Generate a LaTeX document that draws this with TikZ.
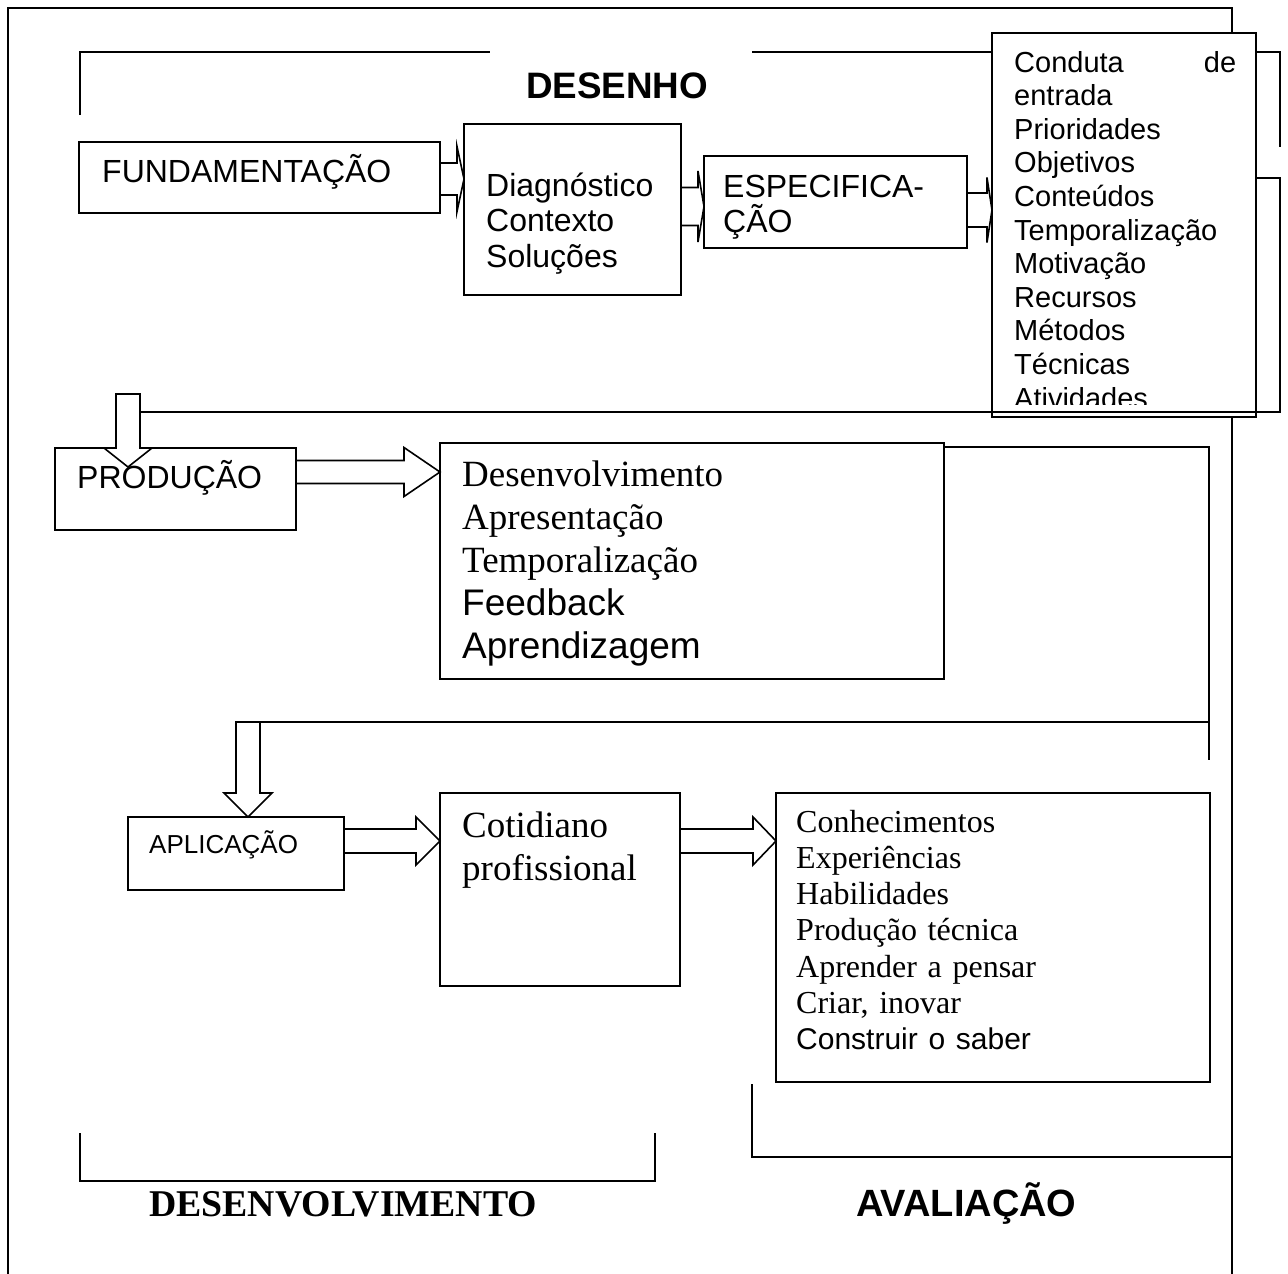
\documentclass[tikz,border=0pt]{standalone}
\usepackage{fontspec}
\setmainfont{Liberation Serif}
\setsansfont{Liberation Sans}
\usetikzlibrary{calc}

% block arrow: source, target, shift, shaft half, head half, head length
\newcommand{\hblock}[6]{%
	\draw[blockarrow] ($(#1.east)+(0,#3-#4)$)
	-- ($(#2.west|-#1.east)+(-#6,#3-#4)$) -- ++(0,#4-#5)
	-- ($(#2.west|-#1.east)+(0,#3)$)
	-- ($(#2.west|-#1.east)+(-#6,#3+#5)$) -- ++(0,#4-#5)
	-- ($(#1.east)+(0,#3+#4)$) -- cycle;}
% down arrow: top, shaft length, head length
\newcommand{\vblock}[3]{%
	\draw[blockarrow] (#1) ++(-12,0) -- ++(24,0) -- ++(0,#2) -- ++(12,0)
	-- ++(-24,#3) -- ++(-24,-#3) -- ++(12,0) -- cycle;}

\begin{document}
\begin{tikzpicture}[x=1pt, y=-1pt,
	box/.style={draw, fill=white, line width=1.6pt, anchor=north west, inner sep=0pt, outer sep=0pt},
	lbl/.style={anchor=base west, inner sep=0pt, align=left},
	blockarrow/.style={draw, fill=white, line width=1.6pt},
	bracket/.style={line width=1.6pt},
	sans/.style 2 args={font=\sffamily\fontsize{#1}{#2}\selectfont},
	serif/.style 2 args={font=\rmfamily\fontsize{#1}{#2}\selectfont}]
	\useasboundingbox (0,0) rectangle (1288,1274);
	
	% frame and brackets
	\draw[bracket] (8,1274) -- (8,8) -- (1232,8) -- (1232,1274);
	\draw[bracket] (80,115) -- (80,52) -- (490,52);
	\draw[bracket] (752,52) -- (1280,52) -- (1280,147);
	\draw[bracket] (944,447) -- (1209,447) -- (1209,760);
	\draw[bracket] (236,722) -- (1209,722);
	\draw[bracket] (752,1084) -- (752,1157) -- (1232,1157);
	\draw[bracket] (80,1133) -- (80,1181) -- (655,1181) -- (655,1133);
	
	\node[lbl, font=\sffamily\bfseries\fontsize{36.8}{42}\selectfont] (desenho) at (526,98) {DESENHO};
	\node[lbl, font=\rmfamily\bfseries\fontsize{37.8}{43}\selectfont] (desenvolv) at (149,1216) {DESENVOLVIMENTO};
	\node[lbl, font=\sffamily\bfseries\fontsize{38}{43}\selectfont] (avalia) at (856,1216) {AVALIAÇÃO};
	
	% boxes
	\node[box, minimum width=361, minimum height=71] (fund) at (79,142) {};
	\node[box, minimum width=217, minimum height=171] (diag) at (464,124) {};
	\node[box, minimum width=263, minimum height=92] (espec) at (704,156) {};
	\node[box, minimum width=264, minimum height=384] (conduta) at (992,33) {};
	\node[box, minimum width=241, minimum height=82] (prod) at (55,448) {};
	\node[box, minimum width=504, minimum height=236] (desenv) at (440,443) {};
	\node[box, minimum width=216, minimum height=73] (aplic) at (128,817) {};
	\node[box, minimum width=240, minimum height=193] (cotid) at (440,793) {};
	\node[box, minimum width=434, minimum height=289] (conhec) at (776,793) {};
	
	\node[lbl, sans={32}{35.5}] (fundtxt) at ($(fund.north west)+(23,40)$) {FUNDAMENTAÇÃO};
	\node[lbl, sans={32}{35.5}, text width=190] (diagtxt) at ($(diag.north west)+(22,72)$)
		{Diagnóstico\\Contexto\\Soluções};
	\node[lbl, sans={32}{35}, text width=240] (espectxt) at ($(espec.north west)+(19,41)$)
		{ESPECIFICA-\\ÇÃO};
	\node[lbl, sans={29}{33.6}, text width=222] (condutatxt) at ($(conduta.north west)+(22,39)$)
		{Conduta\hfill de\\entrada\\Prioridades\\Objetivos\\Conteúdos\\Temporalização\\Motivação\\Recursos\\Métodos\\Técnicas\\Atividades};
	\node[lbl, sans={32}{35.5}] (prodtxt) at ($(prod.north west)+(22,40)$) {PRODUÇÃO};
	\node[lbl, serif={37}{43}, text width=470] (desenvtxt) at ($(desenv.north west)+(22,43)$)
		{Desenvolvimento\\Apresentação\\Temporalização\\\sffamily Feedback\\Aprendizagem};
	\node[lbl, sans={26}{30}] (aplictxt) at ($(aplic.north west)+(21,36)$) {APLICAÇÃO};
	\node[lbl, serif={37}{43}, text width=220] (cotidtxt) at ($(cotid.north west)+(22,44)$)
		{Cotidiano\\profissional};
	\node[lbl, serif={32}{36.3}, text width=400] (conhectxt) at ($(conhec.north west)+(20,39)$)
		{Conhecimentos\\Experiências\\Habilidades\\Produção técnica\\Aprender a pensar\\Criar, inovar\\\sffamily\fontsize{30}{36.3}\selectfont Construir o saber};
	
	% arrows
	\hblock{fund}{diag}{1.5}{16}{32.5}{7}
	\hblock{diag}{espec}{-3}{19}{35.5}{6}
	\hblock{espec}{conduta}{8}{17}{32.5}{5}
	\hblock{prod}{desenv}{-17}{11.5}{24.5}{36}
	\hblock{aplic}{cotid}{-12.5}{12}{24}{24}
	\hblock{cotid}{conhec}{-48.5}{12}{24}{23}
	
	\coordinate (prodin) at (128,394);
	\coordinate (aplicin) at (248,722);
	\vblock{prodin}{54}{19}
	\vblock{aplicin}{71}{24}
	
	\fill[white] ($(conduta.south west)+(1,-1)$) rectangle ($(conduta.south east)+(-1,-12)$);
	\draw[bracket] (1256,178) -- (1280,178) -- (1280,412) -- (140,412);
\end{tikzpicture}
\end{document}
